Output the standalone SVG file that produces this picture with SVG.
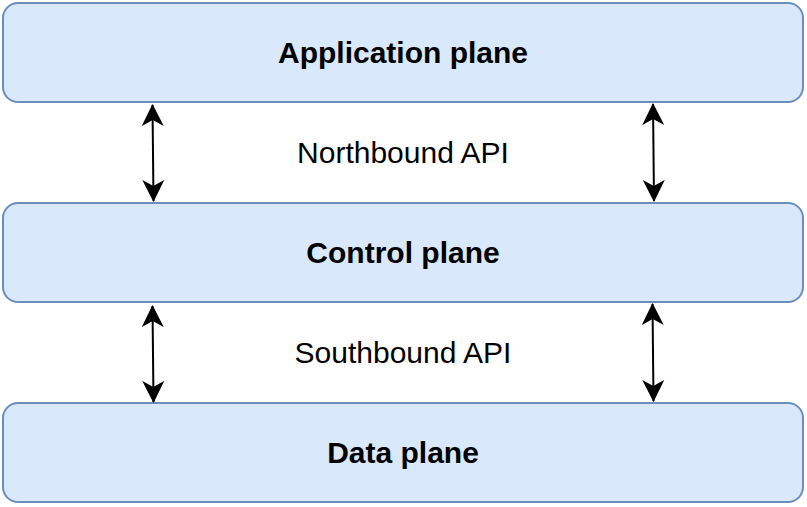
<svg xmlns="http://www.w3.org/2000/svg" width="807" height="507" viewBox="0 0 807 507">
<style>
.box{fill:#dae8fc;stroke:#6c8ebf;stroke-width:2}
.t{font-family:"Liberation Sans",Arial,sans-serif;font-size:30px;text-anchor:middle;fill:#000}
.b{font-weight:bold}
.c{stroke:#000;stroke-width:2;fill:none;marker-start:url(#ah);marker-end:url(#ah)}
</style>
<defs>
<marker id="ah" viewBox="0 0 22 24" refX="21" refY="12" markerWidth="22" markerHeight="24" markerUnits="userSpaceOnUse" orient="auto-start-reverse">
<path d="M0,1 L22,12 L0,23 L6,12 Z" fill="#000"/>
</marker>
</defs>
<rect width="807" height="507" fill="#fff"/>
<g id="app"><rect class="box" x="3" y="3" width="800" height="99" rx="15"/><text class="t b" x="403" y="63">Application plane</text></g>
<g id="ctrl"><rect class="box" x="3" y="203" width="800" height="99" rx="15"/><text class="t b" x="403" y="263">Control plane</text></g>
<g id="data"><rect class="box" x="3" y="403" width="800" height="99" rx="15"/><text class="t b" x="403" y="463">Data plane</text></g>
<g id="labels">
<text class="t" x="403" y="163">Northbound API</text>
<text class="t" x="403" y="363">Southbound API</text>
</g>
<g id="connectors">
<path class="c" d="M152.5,105 L153.5,201"/>
<path class="c" d="M653,104 L654,201"/>
<path class="c" d="M152.5,306 L153.5,402"/>
<path class="c" d="M652.5,304 L653.5,401"/>
</g>
</svg>
